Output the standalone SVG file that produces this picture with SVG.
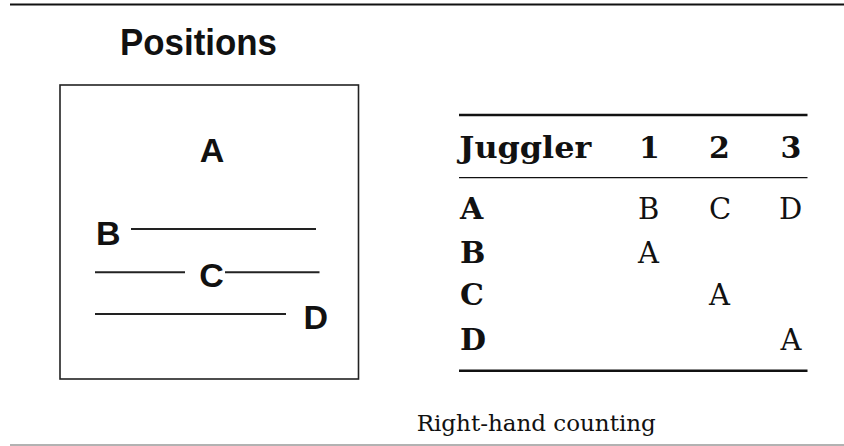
<svg xmlns="http://www.w3.org/2000/svg" width="844" height="446" viewBox="0 0 844 446">
<style>
.sans{font-family:"Liberation Sans",Arial,sans-serif;font-weight:bold;fill:#111;}
.ser{font-family:"DejaVu Serif","Liberation Serif",serif;fill:#111;}
.b{font-weight:bold;}
.pl{stroke:#222;stroke-width:2;fill:none;}
.rule{stroke:#111;}
</style>
<rect width="844" height="446" fill="#fff"/>
<line x1="10" y1="4.5" x2="844" y2="4.5" stroke="#111" stroke-width="2.2"/>
<line x1="10" y1="445" x2="844" y2="445" stroke="#999" stroke-width="1.5"/>
<g id="positions">
<text class="sans" x="120" y="55" font-size="36" textLength="157" lengthAdjust="spacingAndGlyphs">Positions</text>
<rect x="60" y="85" width="298.5" height="294" fill="none" stroke="#222" stroke-width="1.6"/>
<text class="sans" x="212" y="162" font-size="34" text-anchor="middle">A</text>
<text class="sans" x="96" y="245" font-size="34">B</text>
<line class="pl" x1="131" y1="229" x2="316" y2="229"/>
<line class="pl" x1="95" y1="272.3" x2="185" y2="272.3"/>
<text class="sans" x="211.5" y="286.5" font-size="34" text-anchor="middle">C</text>
<line class="pl" x1="225" y1="272.3" x2="319.5" y2="272.3"/>
<line class="pl" x1="95" y1="314" x2="286" y2="314"/>
<text class="sans" x="303.5" y="329.3" font-size="34">D</text>
</g>
<g id="table">
<line class="rule" x1="459" y1="115" x2="807.5" y2="115" stroke-width="2.4"/>
<line class="rule" x1="459" y1="177.7" x2="807.5" y2="177.7" stroke-width="1.2"/>
<line class="rule" x1="459" y1="370.7" x2="807.5" y2="370.7" stroke-width="2.4"/>
<text class="ser b" x="459.3" y="158.3" font-size="30" textLength="132" lengthAdjust="spacingAndGlyphs">Juggler</text>
<text class="ser b" x="639" y="158.3" font-size="30">1</text>
<text class="ser b" x="709" y="158.3" font-size="30">2</text>
<text class="ser b" x="780.5" y="158.3" font-size="30">3</text>
<text class="ser b" x="460" y="219" font-size="30">A</text>
<text class="ser b" x="460" y="263.3" font-size="30">B</text>
<text class="ser b" x="460" y="305" font-size="30">C</text>
<text class="ser b" x="460" y="349.5" font-size="30">D</text>
<text class="ser" x="638" y="219" font-size="29">B</text>
<text class="ser" x="709" y="219" font-size="29">C</text>
<text class="ser" x="779" y="219" font-size="29">D</text>
<text class="ser" x="638" y="263.3" font-size="29">A</text>
<text class="ser" x="709" y="305" font-size="29">A</text>
<text class="ser" x="780.5" y="349.5" font-size="29">A</text>
</g>
<text class="ser" x="416.7" y="430.7" font-size="23">Right-hand counting</text>
</svg>
